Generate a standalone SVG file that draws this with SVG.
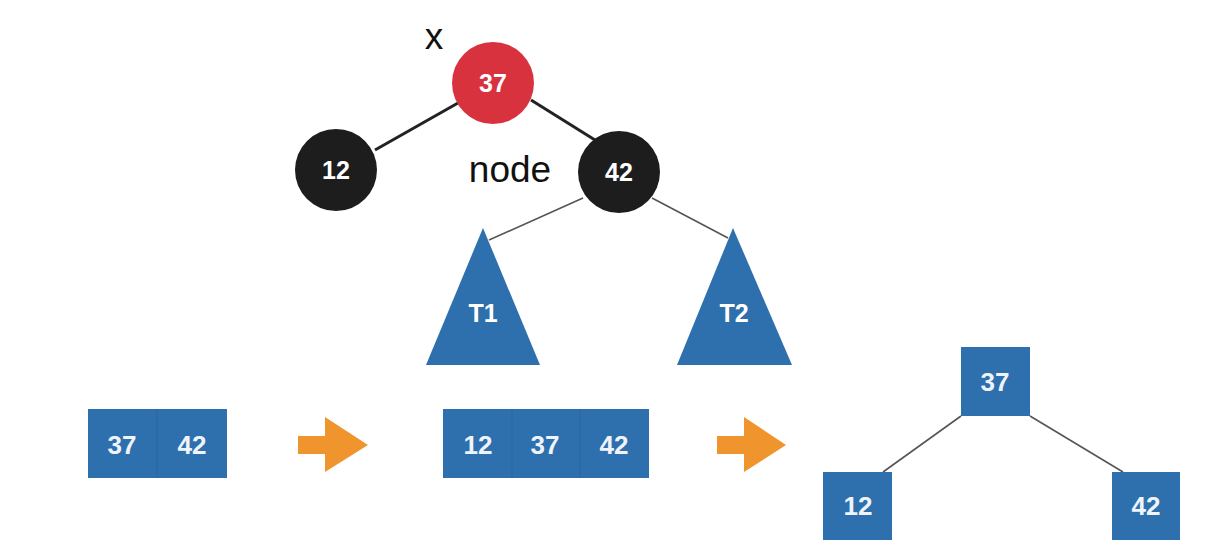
<svg xmlns="http://www.w3.org/2000/svg" width="1220" height="552" viewBox="0 0 1220 552">
<style>
.rb{fill:#d8323f}
.bk{fill:#1d1d1d}
.blue{fill:#2e6fad}
.div{stroke:#2a649e;stroke-width:1}
.ctext{font-family:"Liberation Sans",Arial,sans-serif;font-weight:bold;font-size:25px;fill:#ffffff;text-anchor:middle}
.btext{font-family:"Liberation Sans",Arial,sans-serif;font-weight:bold;font-size:26px;fill:#eef4fa;text-anchor:middle}
.lbl{font-family:"Liberation Sans",Arial,sans-serif;font-size:37px;fill:#111111;text-anchor:middle}
.thick{stroke:#222222;stroke-width:3;fill:none}
.thin{stroke:#555555;stroke-width:1.6;fill:none}
.arrow{fill:#f0952e}
</style>
<rect width="1220" height="552" fill="#ffffff"/>
<g id="connectors">
<line class="thick" x1="375" y1="150" x2="458" y2="103"/>
<line class="thick" x1="531" y1="100" x2="595" y2="140"/>
<line class="thin" x1="583" y1="198" x2="489" y2="240"/>
<line class="thin" x1="652" y1="198" x2="728" y2="238"/>
<line class="thin" x1="961" y1="416" x2="883" y2="472"/>
<line class="thin" x1="1030" y1="416" x2="1123" y2="472"/>
</g>
<g id="label-x"><text class="lbl" x="434" y="49">x</text></g>
<g id="label-node"><text class="lbl" x="510" y="182">node</text></g>
<g id="n37"><circle class="rb" cx="493" cy="83" r="41"/><text class="ctext" x="493" y="92">37</text></g>
<g id="n12"><circle class="bk" cx="336" cy="170" r="41"/><text class="ctext" x="336" y="179">12</text></g>
<g id="n42"><circle class="bk" cx="619" cy="172" r="41"/><text class="ctext" x="619" y="181">42</text></g>
<g id="T1"><polygon class="blue" points="483,228 540,365 426,365"/><text class="ctext" x="483" y="322">T1</text></g>
<g id="T2"><polygon class="blue" points="733,228 792,365 677,365"/><text class="ctext" x="734" y="322">T2</text></g>
<g id="box-37-42">
<rect class="blue" x="88" y="409" width="139" height="69"/>
<line class="div" x1="157" y1="409" x2="157" y2="478"/>
<text class="btext" x="122" y="454">37</text>
<text class="btext" x="192" y="454">42</text>
</g>
<g id="arrow1"><polygon class="arrow" points="298,436 325,436 325,417 368,445 325,472 325,454 298,454"/></g>
<g id="box-12-37-42">
<rect class="blue" x="443" y="409" width="206" height="69"/>
<line class="div" x1="512" y1="409" x2="512" y2="478"/>
<line class="div" x1="580" y1="409" x2="580" y2="478"/>
<text class="btext" x="478" y="454">12</text>
<text class="btext" x="545" y="454">37</text>
<text class="btext" x="614" y="454">42</text>
</g>
<g id="arrow2"><polygon class="arrow" points="717,436 744,436 744,417 786,445 744,472 744,454 717,454"/></g>
<g id="b37"><rect class="blue" x="961" y="347" width="69" height="69"/><text class="btext" x="995" y="391">37</text></g>
<g id="b12"><rect class="blue" x="823" y="472" width="69" height="68"/><text class="btext" x="858" y="515">12</text></g>
<g id="b42"><rect class="blue" x="1112" y="472" width="68" height="68"/><text class="btext" x="1146" y="515">42</text></g>
</svg>
